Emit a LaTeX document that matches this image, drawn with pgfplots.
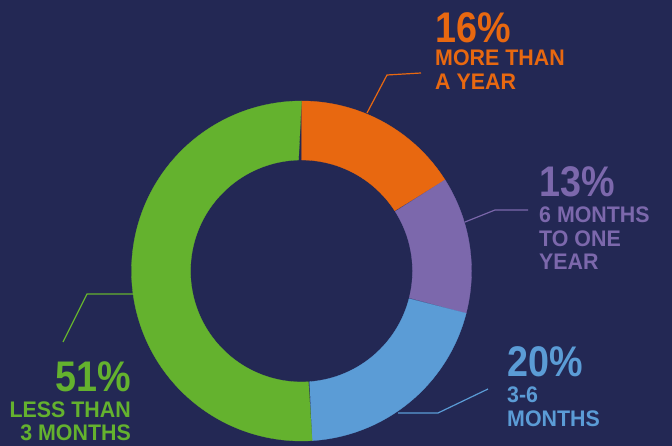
\documentclass[border=0pt]{standalone}
\usepackage{pgfplots}
\usepackage{pgfplotstable}
\pgfplotsset{compat=1.18}
\usepackage{fontspec}
\setmainfont{Liberation Sans}
\newfontfamily\labfont[FakeStretch=0.95]{Liberation Sans}
\newfontfamily\pctfont[FakeStretch=0.88]{Liberation Sans}
\definecolor{bg}{RGB}{35,40,84}
\definecolor{cOr}{RGB}{232,104,16}
\definecolor{cPu}{RGB}{124,104,172}
\definecolor{cBl}{RGB}{91,156,214}
\definecolor{cGr}{RGB}{100,178,46}
\pgfplotstableread{
label value
year 16
sixtwelve 13
threesix 20
lessthree 51
}\sharetable
\pgfplotstablegetelem{0}{value}\of\sharetable \let\vA\pgfplotsretval
\pgfplotstablegetelem{1}{value}\of\sharetable \let\vB\pgfplotsretval
\pgfplotstablegetelem{2}{value}\of\sharetable \let\vC\pgfplotsretval
\pgfplotstablegetelem{3}{value}\of\sharetable \let\vD\pgfplotsretval
\pgfmathsetmacro\aO{90}
\pgfmathsetmacro\aA{\aO-3.6*\vA}
\pgfmathsetmacro\aB{\aA-3.6*\vB}
\pgfmathsetmacro\aC{\aB-3.6*\vC}
\pgfmathsetmacro\aD{\aC-3.6*\vD}
\def\cx{301.5}\def\cy{175}\def\Ro{170}\def\Ri{111}
\newcommand{\donutpart}[3]{%
\addplot[fill=#3, draw=#3, line width=0.3pt, domain=0:2, samples=241, variable=\t]
 ({\cx + ((\t<1) ? \Ro : \Ri)*cos(#1 + ((\t<1) ? \t : 2-\t)*(#2-(#1)))},
  {\cy + ((\t<1) ? \Ro : \Ri)*sin(#1 + ((\t<1) ? \t : 2-\t)*(#2-(#1)))}) -- cycle;}
\newcommand{\pct}{\pctfont\bfseries\fontsize{43}{43}\selectfont}
\newcommand{\lab}{\labfont\bfseries\fontsize{22.6}{22.6}\selectfont}
\begin{document}
\begin{tikzpicture}
\begin{axis}[width=672bp, height=446bp, scale only axis, hide axis, clip=false,
  xmin=0, xmax=672, ymin=0, ymax=446]
\addplot[fill=bg, draw=none] coordinates {(0,0) (672,0) (672,446) (0,446)} -- cycle;
\donutpart{\aO}{\aA}{cOr}
\donutpart{\aA}{\aB}{cPu}
\donutpart{\aB}{\aC}{cBl}
\donutpart{\aC}{\aD}{cGr}
% leader lines
\addplot[cOr, line width=1.2pt] coordinates {(367,333) (387,371) (421,373)};
\addplot[cPu, line width=1.2pt] coordinates {(465,224) (495,236) (528,236)};
\addplot[cBl, line width=1.2pt] coordinates {(398,33) (438,33) (488,57)};
\addplot[cGr, line width=1.2pt] coordinates {(133,152) (87,152) (63,104)};
% labels
\node[anchor=base west, text=cOr, font=\pct, inner sep=0pt] at (axis cs:435,403) {16\%};
\node[anchor=base west, text=cOr, font=\lab, inner sep=0pt] at (axis cs:435,380) {MORE THAN};
\node[anchor=base west, text=cOr, font=\lab, inner sep=0pt] at (axis cs:435,356) {A YEAR};
\node[anchor=base west, text=cPu, font=\pct, inner sep=0pt] at (axis cs:539,249) {13\%};
\node[anchor=base west, text=cPu, font=\lab, inner sep=0pt] at (axis cs:539,223) {6 MONTHS};
\node[anchor=base west, text=cPu, font=\lab, inner sep=0pt] at (axis cs:539,199) {TO ONE};
\node[anchor=base west, text=cPu, font=\lab, inner sep=0pt] at (axis cs:539,176) {YEAR};
\node[anchor=base west, text=cBl, font=\pct, inner sep=0pt] at (axis cs:507,69) {20\%};
\node[anchor=base west, text=cBl, font=\lab, inner sep=0pt] at (axis cs:507,43) {3-6};
\node[anchor=base west, text=cBl, font=\lab, inner sep=0pt] at (axis cs:507,20) {MONTHS};
\node[anchor=base east, text=cGr, font=\pct, inner sep=0pt] at (axis cs:131,54) {51\%};
\node[anchor=base east, text=cGr, font=\lab, inner sep=0pt] at (axis cs:131,29) {LESS THAN};
\node[anchor=base east, text=cGr, font=\lab, inner sep=0pt] at (axis cs:131,6) {3 MONTHS};
\end{axis}
\end{tikzpicture}
\end{document}
